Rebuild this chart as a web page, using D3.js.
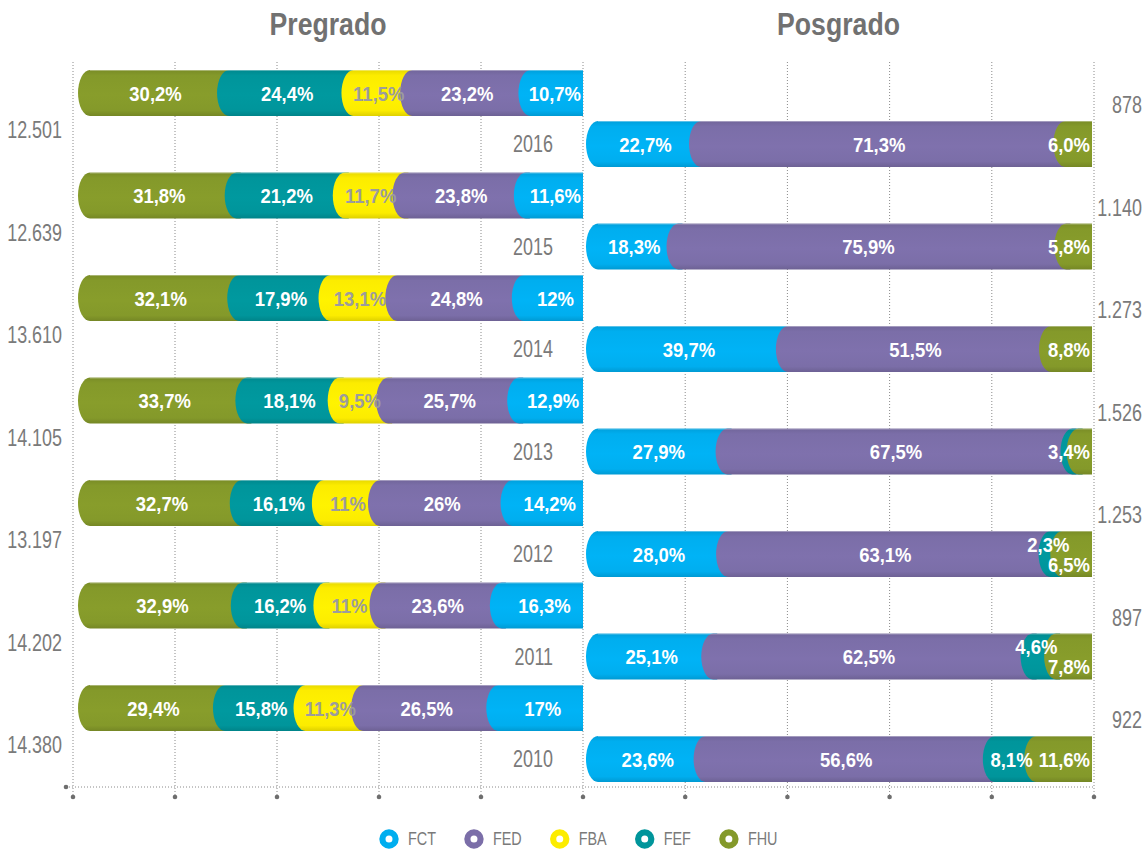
<!DOCTYPE html>
<html>
<head>
<meta charset="utf-8">
<script src="https://cdn.jsdelivr.net/npm/d3@7"></script>
<style>
  html, body { margin: 0; padding: 0; background: #fff; }
  svg { display: block; font-family: "Liberation Sans", Arial, "DejaVu Sans", sans-serif; }
</style>
</head>
<body>
<svg id="chart" width="1146" height="850"></svg>
<script>
// ---------------- data ----------------
const years = [2016, 2015, 2014, 2013, 2012, 2011, 2010];
const faculties = ["FCT", "FED", "FBA", "FEF", "FHU"];
const facultyColors = ["#00aeef", "#7b6ea8", "#fcec00", "#00959b", "#84992a"];

// Pregrado percentages
const pregFCT = [10.7, 11.6, 12, 12.9, 14.2, 16.3, 17];
const pregFED = [23.2, 23.8, 24.8, 25.7, 26, 23.6, 26.5];
const pregFBA = [11.5, 11.7, 13.1, 9.5, 11, 11, 11.3];
const pregFEF = [24.4, 21.2, 17.9, 18.1, 16.1, 16.2, 15.8];
const pregFHU = [30.2, 31.8, 32.1, 33.7, 32.7, 32.9, 29.4];
// Posgrado percentages
const posgFCT = [22.7, 18.3, 39.7, 27.9, 28.0, 25.1, 23.6];
const posgFED = [71.3, 75.9, 51.5, 67.5, 63.1, 62.5, 56.6];
const posgFEF = [0, 0, 0, 1.2, 2.3, 4.6, 8.1];
const posgFHU = [6.0, 5.8, 8.8, 3.4, 6.5, 7.8, 11.6];
// Totals
const pregTotal = [12501, 12639, 13610, 14105, 13197, 14202, 14380];
const posgTotal = [878, 1140, 1273, 1526, 1253, 897, 922];

const xTicks = [0, 20, 40, 60, 80, 100];

// ---------------- setup ----------------
const locale = d3.formatLocale({decimal: ",", thousands: ".", grouping: [3], currency: ["", ""]});
const fmtTotal = locale.format(",d");
const fmtPreg = locale.format(".1~f");
const fmtPosg = locale.format(".1f");
const colorOf = d3.scaleOrdinal().domain(faculties).range(facultyColors);

const SX_REG = 0.78, SX_BOLD = 0.88;

const svg = d3.select("#chart");
const defs = svg.append("defs");
faculties.forEach(f => {
  const c = d3.color(colorOf(f));
  const g = defs.append("linearGradient").attr("id", "grad-" + f)
    .attr("x1", 0).attr("x2", 0).attr("y1", 0).attr("y2", 1);
  g.append("stop").attr("offset", "0%").attr("stop-color", c.darker(0.25));
  g.append("stop").attr("offset", "12%").attr("stop-color", c);
  g.append("stop").attr("offset", "55%").attr("stop-color", c.brighter(0.08));
  g.append("stop").attr("offset", "88%").attr("stop-color", c);
  g.append("stop").attr("offset", "100%").attr("stop-color", c.darker(0.35));
});

// condensed text helper
function ctext(parent, x, y, str, opts) {
  const t = parent.append("text")
    .attr("transform", `translate(${x},${y}) scale(${opts.sx},1)`)
    .attr("text-anchor", opts.anchor || "start")
    .attr("dy", opts.dy || "0.36em")
    .attr("font-size", opts.size)
    .attr("font-weight", opts.bold ? "bold" : "normal")
    .attr("fill", opts.fill)
    .text(str);
  return t;
}

const xPreg = d3.scaleLinear().domain([0, 100]).range([583, 73]);
const xPosg = d3.scaleLinear().domain([0, 100]).range([583, 1094]);
const yPreg = d3.scalePoint().domain(years).range([93, 708]);
const posgShift = 51;
const barH = 46;
const gridTop = 62, axisY = 787, tickDotY = 797;

// titles
ctext(svg, (xPreg(0) + xPreg(100)) / 2, 24, "Pregrado", {sx: 0.86, size: 31, bold: true, fill: "#717171", anchor: "middle"});
ctext(svg, (xPosg(0) + xPosg(100)) / 2, 24, "Posgrado", {sx: 0.86, size: 31, bold: true, fill: "#717171", anchor: "middle"});

// grid
const grid = svg.append("g");
const tickXs = Array.from(new Set(xTicks.map(t => xPreg(t)).concat(xTicks.map(t => xPosg(t)))));
grid.selectAll("line.g").data(tickXs).join("line")
  .attr("x1", d => d).attr("x2", d => d).attr("y1", gridTop).attr("y2", tickDotY)
  .attr("stroke", "#8a8a8a").attr("stroke-width", 1).attr("stroke-dasharray", "1,2");
grid.append("line").attr("x1", 66).attr("x2", xPosg(100)).attr("y1", axisY).attr("y2", axisY)
  .attr("stroke", "#8a8a8a").attr("stroke-width", 1).attr("stroke-dasharray", "1,2");
grid.selectAll("circle.t").data(tickXs).join("circle")
  .attr("cx", d => d).attr("cy", tickDotY).attr("r", 2.3).attr("fill", "#6e6e6e");
grid.append("circle").attr("cx", 66).attr("cy", axisY).attr("r", 2.3).attr("fill", "#6e6e6e");

// ---------------- bars ----------------
const rx = 12;
function segPath(a, b, yc) {
  const top = yc - barH / 2, bot = yc + barH / 2;
  return `M${a + rx},${top}L${b},${top}L${b},${bot}L${a + rx},${bot}A${rx},${barH / 2} 0 0 1 ${a + rx},${top}Z`;
}

function drawBar(g, rows, keys, xs, yc, fmt, barLeft, barRight) {
  const stack = d3.stack().keys(keys)([rows]);
  let segs = stack.map(s => {
    const p0 = xs(s[0][0]), p1 = xs(s[0][1]);
    return {key: s.key, value: rows[s.key], L: Math.min(p0, p1), R: Math.max(p0, p1)};
  }).filter(s => s.value > 0);
  segs.sort((a, b) => a.L - b.L);
  segs.forEach((s, i) => {
    s.a = i === 0 ? barLeft : s.L - 10;
    s.b = i === segs.length - 1 ? barRight : s.R + 6;
  });
  segs.forEach((s, i) => {
    s.visR = i === segs.length - 1 ? barRight : segs[i + 1].a;
  });
  const bg = g.append("g");
  bg.selectAll("path").data(segs).join("path")
    .attr("d", s => segPath(s.a, s.b, yc))
    .attr("fill", s => `url(#grad-${s.key})`);
  bg.append("line").attr("x1", barLeft + rx).attr("x2", barRight)
    .attr("y1", yc - barH / 2 + 0.5).attr("y2", yc - barH / 2 + 0.5)
    .attr("stroke", "#ffffff").attr("stroke-opacity", 0.35);

  const labeled = segs.filter(s => s.value >= 2);
  labeled.forEach(s => {
    s.node = ctext(bg, 0, yc, fmt(s.value) + "%",
      {sx: SX_BOLD, size: 21, bold: true, anchor: "middle", fill: s.key === "FBA" ? "#9c9c9c" : "#ffffff"});
    s.w = s.node.node().getComputedTextLength() * SX_BOLD;
    let c = (s.a + s.visR) / 2 + 8;
    c = Math.min(c, barRight - 2 - s.w / 2);
    c = Math.max(c, barLeft + 2 + s.w / 2);
    s.cx = c;
    s.dy = 0;
  });
  for (let i = 0; i < labeled.length - 1; i++) {
    const l = labeled[i], r = labeled[i + 1];
    if (l.cx + l.w / 2 > r.cx - r.w / 2 - 1) { l.dy = -10; r.dy = 10; l.cx -= 4; }
  }
  labeled.forEach(s => s.node.attr("transform", `translate(${s.cx},${yc + s.dy}) scale(${SX_BOLD},1)`));
}

const barsG = svg.append("g");
years.forEach((yr, i) => {
  const yP = yPreg(yr), yG = yPreg(yr) + posgShift;
  drawBar(barsG,
    {FCT: pregFCT[i], FED: pregFED[i], FBA: pregFBA[i], FEF: pregFEF[i], FHU: pregFHU[i]},
    ["FCT", "FED", "FBA", "FEF", "FHU"], xPreg, yP, fmtPreg, xPreg(100) + 5, xPreg(0));
  drawBar(barsG,
    {FCT: posgFCT[i], FED: posgFED[i], FEF: posgFEF[i], FHU: posgFHU[i]},
    ["FCT", "FED", "FEF", "FHU"], xPosg, yG, fmtPosg, xPosg(0) + 3, xPosg(100) - 2);
});

// ---------------- side labels ----------------
const lab = svg.append("g");
years.forEach((yr, i) => {
  ctext(lab, 62, yPreg(yr) + 37, fmtTotal(pregTotal[i]), {sx: SX_REG, size: 23, anchor: "end", fill: "#7a7a7a"});
  ctext(lab, 1142, yPreg(yr) + posgShift - 39, fmtTotal(posgTotal[i]), {sx: SX_REG, size: 23, anchor: "end", fill: "#7a7a7a"});
  ctext(lab, 553, yPreg(yr) + posgShift, String(yr), {sx: SX_REG, size: 23, anchor: "end", fill: "#7a7a7a"});
});

// ---------------- legend ----------------
const leg = svg.append("g").attr("transform", "translate(389,839)");
let lx = 0;
faculties.forEach(f => {
  const it = leg.append("g").attr("transform", `translate(${lx},0)`);
  it.append("circle").attr("cx", 0).attr("cy", 0).attr("r", 6.6)
    .attr("fill", "#fff").attr("stroke", colorOf(f)).attr("stroke-width", 6.2);
  const t = ctext(it, 19, 0, f, {sx: 0.8, size: 18, fill: "#7a7a7a"});
  const w = t.node().getComputedTextLength() * 0.8;
  lx += 19 + w + 38;
});
</script>
</body>
</html>
